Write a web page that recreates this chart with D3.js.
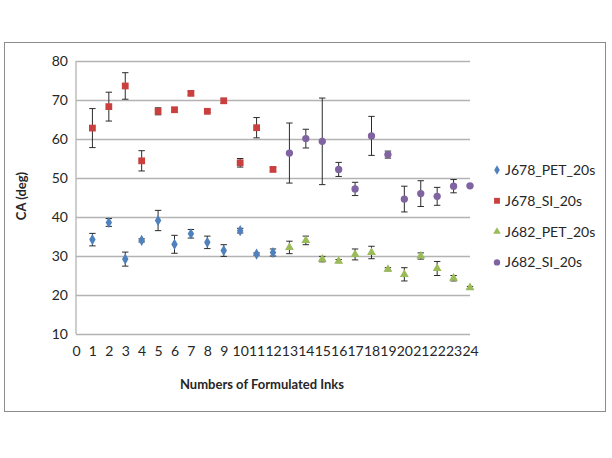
<!DOCTYPE html>
<html>
<head>
<meta charset="utf-8">
<script src="https://cdn.jsdelivr.net/npm/d3@7"></script>
<style>
  body { margin: 0; background: #fff; }
  text { font-family: Lato, "Open Sans", sans-serif; fill: #262626; }
</style>
</head>
<body>
<div id="chart"></div>
<script>
// ink numbers (x axis)
const inksA = [1, 2, 3, 4, 5, 6, 7, 8, 9, 10, 11, 12];
const inksB = [13, 14, 15, 16, 17, 18, 19, 20, 21, 22, 23, 24];

// contact angle values and error bars
const j678Pet = [34.2, 38.6, 29.2, 34.0, 39.1, 33.0, 35.7, 33.5, 31.4, 36.5, 30.5, 30.9];
const j678PetErr = [1.6, 1.0, 1.8, 0.4, 2.6, 2.3, 1.1, 1.6, 1.5, 0.6, 0.3, 0.9];
const j678Si = [62.8, 68.3, 73.6, 54.4, 67.1, 67.5, 71.7, 67.1, 69.8, 53.9, 62.9, 52.2];
const j678SiErr = [5.0, 3.7, 3.4, 2.6, 0.9, 0.5, 0.5, 0.3, 0.6, 1.1, 2.6, 0.5];
const j682Pet = [32.2, 34.0, 29.2, 28.7, 30.4, 30.9, 26.6, 25.3, 30.0, 26.8, 24.3, 21.9];
const j682PetErr = [1.6, 1.1, 0.7, 0.4, 1.4, 1.6, 0.4, 1.7, 0.8, 1.8, 0.7, 0.3];
const j682Si = [56.4, 60.1, 59.4, 52.2, 47.2, 60.8, 56.0, 44.6, 46.0, 45.3, 47.9, 48.0];
const j682SiErr = [7.7, 2.4, 11.1, 1.8, 1.7, 5.0, 0.9, 3.3, 3.3, 2.3, 1.7, 0.2];

const xTicks = [0, 1, 2, 3, 4, 5, 6, 7, 8, 9, 10, 11, 12, 13, 14, 15, 16, 17, 18, 19, 20, 21, 22, 23, 24];
const yTicks = [10, 20, 30, 40, 50, 60, 70, 80];

const seriesList = [
    { name: 'J678_PET_20s', x: inksA, y: j678Pet, err: j678PetErr, color: '#4F81BD', shape: d3.symbolDiamond, size: 36 },
    { name: 'J678_SI_20s', x: inksA, y: j678Si, err: j678SiErr, color: '#C9403F', shape: d3.symbolSquare, size: 46 },
    { name: 'J682_PET_20s', x: inksB, y: j682Pet, err: j682PetErr, color: '#9BBB59', shape: d3.symbolTriangle, size: 34 },
    { name: 'J682_SI_20s', x: inksB, y: j682Si, err: j682SiErr, color: '#8064A2', shape: d3.symbolCircle, size: 42 }
];

const W = 612, H = 458;
const plot = { left: 76, right: 470, top: 61, bottom: 334 };

const svg = d3.select('#chart')
    .append('svg')
    .attr('width', W)
    .attr('height', H);

// outer chart border
svg.append('rect')
    .attr('x', 4.5).attr('y', 42.5)
    .attr('width', 601).attr('height', 369)
    .attr('fill', '#fff')
    .attr('stroke', '#8c8c8c')
    .attr('stroke-width', 1);

const xScale = d3.scaleLinear().domain([0, 24]).range([plot.left, plot.right]);
const yScale = d3.scaleLinear().domain([10, 80]).range([plot.bottom, plot.top]);

// gridlines + y labels
const yAxis = svg.append('g')
    .attr('transform', `translate(${plot.left}, 0)`)
    .call(d3.axisLeft(yScale).tickValues(yTicks).tickSize(-(plot.right - plot.left)).tickPadding(8));
yAxis.select('.domain').remove();
yAxis.selectAll('.tick line').attr('stroke', '#b3b3b3').attr('stroke-width', 1.3);
yAxis.selectAll('.tick text').style('font-size', '14px').attr('fill', '#262626');

// left axis line
svg.append('line')
    .attr('x1', plot.left).attr('x2', plot.left)
    .attr('y1', plot.top).attr('y2', plot.bottom)
    .attr('stroke', '#b3b3b3').attr('stroke-width', 1.3);

// x labels
const xAxis = svg.append('g')
    .attr('transform', `translate(0, ${plot.bottom})`)
    .call(d3.axisBottom(xScale).tickValues(xTicks).tickSize(0).tickPadding(12).tickFormat(d3.format('d')));
xAxis.select('.domain').remove();
xAxis.selectAll('.tick text').style('font-size', '14px').attr('fill', '#262626');

// error bars
const cap = 3.2;
seriesList.forEach(s => {
    const pts = s.x.map((v, i) => ({ x: v, y: s.y[i], e: s.err[i] }));
    const g = svg.append('g').attr('class', 'err');
    g.selectAll('line.v').data(pts).enter().append('line')
        .attr('x1', d => xScale(d.x)).attr('x2', d => xScale(d.x))
        .attr('y1', d => yScale(d.y + d.e)).attr('y2', d => yScale(d.y - d.e))
        .attr('stroke', '#2b2b2b').attr('stroke-width', 1);
    g.selectAll('line.t').data(pts).enter().append('line')
        .attr('x1', d => xScale(d.x) - cap).attr('x2', d => xScale(d.x) + cap)
        .attr('y1', d => yScale(d.y + d.e)).attr('y2', d => yScale(d.y + d.e))
        .attr('stroke', '#2b2b2b').attr('stroke-width', 1);
    g.selectAll('line.b').data(pts).enter().append('line')
        .attr('x1', d => xScale(d.x) - cap).attr('x2', d => xScale(d.x) + cap)
        .attr('y1', d => yScale(d.y - d.e)).attr('y2', d => yScale(d.y - d.e))
        .attr('stroke', '#2b2b2b').attr('stroke-width', 1);
});

// markers
seriesList.forEach(s => {
    const pts = s.x.map((v, i) => ({ x: v, y: s.y[i] }));
    svg.append('g').selectAll('path').data(pts).enter().append('path')
        .attr('d', d3.symbol().type(s.shape).size(s.size))
        .attr('transform', d => `translate(${xScale(d.x)}, ${yScale(d.y)})`)
        .attr('fill', s.color);
});

// axis titles
svg.append('text')
    .attr('x', 262).attr('y', 389)
    .attr('text-anchor', 'middle')
    .style('font-size', '13px').style('font-weight', 'bold')
    .text('Numbers of Formulated Inks');
svg.append('text')
    .attr('transform', 'translate(26, 196) rotate(-90)')
    .attr('text-anchor', 'middle')
    .style('font-size', '13px').style('font-weight', 'bold')
    .text('CA (deg)');

// legend
const legend = svg.append('g').attr('transform', 'translate(497, 170)');
seriesList.forEach((s, i) => {
    const row = legend.append('g').attr('transform', `translate(0, ${i * 30.8})`);
    row.append('path')
        .attr('d', d3.symbol().type(s.shape).size(s.size * 0.75))
        .attr('fill', s.color);
    row.append('text')
        .attr('x', 8).attr('y', 5)
        .style('font-size', '14px')
        .text(s.name);
});
</script>
</body>
</html>
